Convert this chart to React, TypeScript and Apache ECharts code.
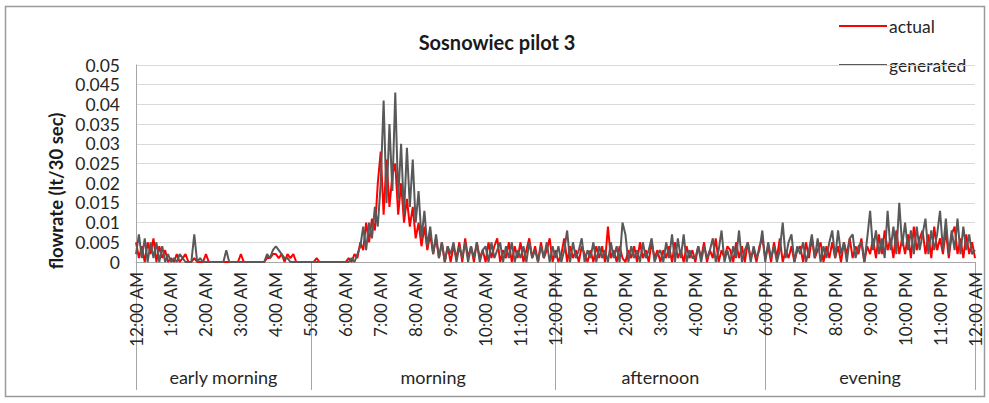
import React, { useEffect, useRef } from "react";
import * as echarts from "echarts";

const chartTitle = "Sosnowiec pilot 3";
const yAxisTitle = "flowrate (lt/30 sec)";
const seriesNames = ["actual", "generated"];
const periodNames = ["early morning", "morning", "afternoon", "evening"];
const periodBounds = [0, 300, 720, 1080, 1440]; // minutes of day
const periodCenters = [150, 510, 900, 1260];
const hourLabels = [
  "12:00 AM", "1:00 AM", "2:00 AM", "3:00 AM", "4:00 AM", "5:00 AM",
  "6:00 AM", "7:00 AM", "8:00 AM", "9:00 AM", "10:00 AM", "11:00 AM",
  "12:00 PM", "1:00 PM", "2:00 PM", "3:00 PM", "4:00 PM", "5:00 PM",
  "6:00 PM", "7:00 PM", "8:00 PM", "9:00 PM", "10:00 PM", "11:00 PM", "12:00 AM",
];
const stepMinutes = 5;
const unit = 0.001; // values below are in thousandths of a litre

// actual flowrate, every 5 minutes (12 per hour)
const actualValues = [
  5, 1, 4, 0, 5, 2, 6, 0, 4, 1, 3, 0,
  1, 0, 2, 0, 1, 2, 0, 0, 1, 0, 0, 0,
  2, 0, 0, 0, 0, 0, 0, 0, 0, 0, 0, 0,
  2, 0, 0, 0, 0, 0, 0, 0, 0, 1, 1, 2,
  2, 1, 2, 0, 2, 1, 2, 0, 0, 0, 0, 0,
  0, 0, 1, 0, 0, 0, 0, 0, 0, 0, 0, 0,
  0, 1, 0, 2, 1, 5, 3, 10, 5, 11, 8, 20,
  28, 12, 26, 14, 22, 25, 12, 20, 10, 16, 9, 14,
  6, 10, 4, 9, 3, 7, 2, 6, 1, 5, 0, 4,
  0, 4, 1, 5, 0, 6, 1, 4, 0, 5, 1, 3,
  0, 5, 1, 4, 6, 0, 3, 1, 5, 0, 4, 1,
  5, 0, 3, 6, 1, 4, 0, 5, 1, 3, 6, 0,
  3, 0, 2, 6, 0, 4, 1, 3, 0, 4, 2, 0,
  3, 0, 4, 1, 4, 0, 9, 1, 3, 0, 4, 1,
  0, 3, 1, 4, 0, 5, 1, 3, 0, 5, 1, 3,
  0, 3, 1, 4, 0, 5, 1, 3, 0, 4, 1, 3,
  0, 4, 1, 5, 0, 3, 1, 6, 0, 3, 1, 4,
  3, 0, 5, 1, 4, 0, 5, 1, 3, 0, 4, 6,
  1, 4, 0, 5, 1, 6, 0, 3, 1, 4, 0, 3,
  4, 0, 5, 1, 6, 1, 3, 5, 0, 4, 1, 5,
  1, 4, 0, 5, 2, 6, 1, 4, 2, 6, 0, 4,
  2, 6, 1, 7, 2, 8, 3, 6, 1, 8, 2, 6,
  2, 7, 1, 9, 3, 6, 8, 2, 7, 1, 9, 3,
  6, 2, 8, 1, 7, 9, 2, 6, 1, 7, 2, 5,
  1,
];

// generated flowrate, every 5 minutes (12 per hour)
const generatedValues = [
  2, 7, 1, 6, 0, 5, 1, 5, 0, 4, 0, 2,
  0, 1, 0, 2, 1, 0, 0, 0, 7, 0, 1, 0,
  0, 0, 0, 0, 0, 0, 0, 3, 0, 0, 0, 0,
  0, 0, 0, 0, 0, 0, 0, 0, 0, 2, 1, 3,
  4, 3, 2, 1, 1, 0, 0, 0, 0, 0, 0, 0,
  0, 0, 0, 0, 0, 0, 0, 0, 0, 0, 0, 0,
  0, 0, 1, 0, 2, 4, 9, 3, 10, 6, 14, 9,
  20, 41, 15, 35, 18, 43, 16, 30, 12, 29, 14, 26,
  10, 18, 6, 13, 4, 9, 2, 7, 1, 5, 0, 4,
  2, 5, 0, 4, 1, 5, 0, 4, 1, 5, 0, 3,
  4, 0, 5, 1, 3, 5, 0, 4, 1, 5, 0, 3,
  1, 4, 0, 5, 1, 3, 0, 4, 1, 5, 0, 4,
  1, 4, 0, 3, 8, 0, 5, 1, 3, 6, 0, 3,
  1, 5, 0, 4, 1, 3, 0, 5, 1, 4, 0, 10,
  7, 0, 4, 1, 3, 0, 5, 1, 3, 6, 0, 2,
  3, 0, 5, 1, 7, 0, 6, 1, 7, 0, 3, 1,
  1, 4, 0, 4, 1, 3, 6, 0, 3, 8, 0, 3,
  0, 4, 1, 8, 0, 3, 5, 0, 4, 1, 3, 8,
  0, 5, 1, 4, 0, 3, 10, 1, 5, 7, 0, 4,
  2, 5, 0, 3, 7, 1, 6, 0, 4, 1, 5, 8,
  1, 8, 2, 5, 0, 6, 7, 1, 4, 5, 0, 6,
  13, 3, 8, 2, 6, 1, 13, 3, 9, 2, 15, 4,
  10, 3, 8, 2, 9, 3, 7, 11, 2, 8, 3, 7,
  13, 3, 11, 2, 8, 3, 11, 2, 9, 3, 7, 2,
  3,
];

const FONT = "Lato, 'Open Sans', sans-serif";
const TEXT = "#262626";
const AXIS = "#a6a6a6";

export default function App() {
  const ref = useRef<HTMLDivElement>(null);

  useEffect(() => {
    if (!ref.current) return;
    const chart = echarts.init(ref.current, undefined, { renderer: "svg" });
    const toPairs = (vals: number[]) =>
      vals.map((v, i) => [i * stepMinutes, +(v * unit).toFixed(4)]);

    chart.setOption({
      animation: false,
      backgroundColor: "#ffffff",
      grid: { left: 136, right: 14, top: 65, bottom: 141, containLabel: false, outerBoundsMode: "none" },
      xAxis: [
        {
          type: "value",
          min: 0,
          max: 1440,
          interval: 60,
          axisLine: { show: true, lineStyle: { color: AXIS, width: 1 } },
          axisTick: { show: false },
          splitLine: { show: false },
          axisLabel: {
            rotate: 90,
            margin: 10,
            fontSize: 17,
            fontFamily: FONT,
            color: TEXT,
            formatter: (v: number) => hourLabels[Math.round(v / 60)] ?? "",
          },
        },
        {
          type: "value",
          min: 0,
          max: 1440,
          position: "bottom",
          axisLine: { show: false },
          splitLine: { show: false },
          axisTick: {
            show: true,
            customValues: periodBounds,
            length: 128,
            lineStyle: { color: AXIS, width: 1 },
          },
          axisLabel: {
            customValues: periodCenters,
            margin: 106,
            fontSize: 18,
            fontFamily: FONT,
            color: TEXT,
            formatter: (v: number) => periodNames[periodCenters.indexOf(v)] ?? "",
          },
        },
      ],
      yAxis: {
        type: "value",
        min: 0,
        max: 0.05,
        interval: 0.005,
        axisLine: { show: true, lineStyle: { color: AXIS, width: 1 } },
        axisTick: { show: false },
        splitLine: { show: true, lineStyle: { color: "#d9d9d9", width: 1 } },
        axisLabel: {
          margin: 16,
          fontSize: 17.5,
          fontFamily: FONT,
          color: TEXT,
          formatter: (v: number) => String(+v.toFixed(3)),
        },
      },
      series: [
        {
          name: seriesNames[0],
          type: "line",
          xAxisIndex: 0,
          showSymbol: false,
          data: toPairs(actualValues),
          lineStyle: { color: "#ff0000", width: 2 },
          itemStyle: { color: "#ff0000" },
          z: 2,
        },
        {
          name: seriesNames[1],
          type: "line",
          xAxisIndex: 0,
          showSymbol: false,
          data: toPairs(generatedValues),
          lineStyle: { color: "#595959", width: 2 },
          itemStyle: { color: "#595959" },
          z: 3,
        },
      ],
      graphic: [
        {
          type: "rect",
          shape: { x: 5.5, y: 6.5, width: 979, height: 390 },
          style: { fill: "none", stroke: "#9a9a9a", lineWidth: 1.5 },
          z: -1,
        },
        {
          type: "text",
          x: 497,
          y: 42,
          style: {
            text: chartTitle,
            font: `bold 20px ${FONT}`,
            fill: "#1a1a1a",
            align: "center",
            verticalAlign: "middle",
          },
        },
        {
          type: "text",
          x: 56,
          y: 191,
          rotation: Math.PI / 2,
          style: {
            text: yAxisTitle,
            font: `bold 18.5px ${FONT}`,
            fill: "#1a1a1a",
            align: "center",
            verticalAlign: "middle",
          },
        },
        {
          type: "line",
          shape: { x1: 839, y1: 26, x2: 887, y2: 26 },
          style: { stroke: "#ff0000", lineWidth: 2 },
        },
        {
          type: "text",
          x: 889,
          y: 26,
          style: { text: seriesNames[0], font: `17.5px ${FONT}`, fill: TEXT, align: "left", verticalAlign: "middle" },
        },
        {
          type: "line",
          shape: { x1: 839, y1: 65, x2: 887, y2: 65 },
          style: { stroke: "#595959", lineWidth: 2 },
        },
        {
          type: "text",
          x: 889,
          y: 65,
          style: { text: seriesNames[1], font: `17.5px ${FONT}`, fill: TEXT, align: "left", verticalAlign: "middle" },
        },
      ],
    });

    return () => chart.dispose();
  }, []);

  return (
    <div
      ref={ref}
      style={{ position: "fixed", left: 0, top: 0, width: 989, height: 403, background: "#fff" }}
    />
  );
}
